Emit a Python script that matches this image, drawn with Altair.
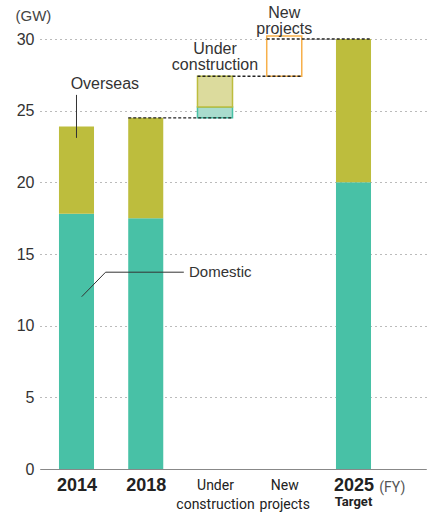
import altair as alt
import pandas as pd

# ---- data ----
categories = ["2014", "2018", "Under construction", "New projects", "2025"]
axis_labels = [["2014"], ["2018"], ["Under", "construction"], ["New", "projects"], ["2025"]]
positions = [0, 1, 2, 3, 4]
domestic = [17.8, 17.5, 20.0]          # 2014, 2018, 2025
overseas = [6.1, 7.0, 10.0]            # 2014, 2018, 2025
solid_pos = [0, 1, 4]
uc_domestic = 0.75                     # under construction (domestic part)
uc_overseas = 2.15                     # under construction (overseas part)
new_projects = 2.6

TEAL = "#48c1a6"
OLIVE = "#bdbd3d"
LTEAL = "#a9dccd"
LOLIVE = "#dcdb9d"
ORANGE = "#f7b04a"
FONT = "Liberation Sans"
NARROW = "Roboto"
HALF = 0.253

# ---- tables ----
rows = []
for p, d, o in zip(solid_pos, domestic, overseas):
    rows.append({"x": p - HALF, "x2": p + HALF, "y": 0, "y2": d, "kind": "Domestic"})
    rows.append({"x": p - HALF, "x2": p + HALF, "y": d, "y2": d + o, "kind": "Overseas"})
solid = pd.DataFrame(rows)

base2018 = domestic[1] + overseas[1]
uc_top = base2018 + uc_domestic + uc_overseas
uc = pd.DataFrame([
    {"x": 2 - HALF, "x2": 2 + HALF, "y": base2018, "y2": base2018 + uc_domestic, "kind": "Domestic"},
    {"x": 2 - HALF, "x2": 2 + HALF, "y": base2018 + uc_domestic, "y2": uc_top, "kind": "Overseas"},
])
npj = pd.DataFrame([{"x": 3 - HALF, "x2": 3 + HALF, "y": uc_top, "y2": uc_top + new_projects}])

total2025 = domestic[2] + overseas[2]
connectors = pd.DataFrame([
    {"x": 1 - HALF, "x2": 2 + HALF, "y": base2018},
    {"x": 2 - HALF, "x2": 3 + HALF, "y": uc_top},
    {"x": 3 - HALF, "x2": 4 + HALF, "y": total2025},
])

xscale = alt.Scale(domain=[-0.527, 5.047], nice=False, zero=False)
yscale = alt.Scale(domain=[0, 30], nice=False)

labels_js = "[" + ",".join("[" + ",".join("'%s'" % s for s in l) + "]" for l in axis_labels) + "]"
small_test = "datum.value == 2 || datum.value == 3"

xaxis = alt.Axis(
    values=positions, labelExpr=labels_js + "[datum.value]", grid=False, ticks=False,
    domainColor="#888", domainWidth=1, title=None,
    labelPadding={"condition": {"test": small_test, "value": 9}, "value": 7},
    labelFontSize={"condition": {"test": small_test, "value": 14}, "value": 18},
    labelFontWeight={"condition": {"test": small_test, "value": "normal"}, "value": "bold"},
    labelFont={"condition": {"test": small_test, "value": NARROW}, "value": FONT},
    labelColor="#222", labelLineHeight=19, labelBaseline="top",
)
yaxis = alt.Axis(
    values=[0, 5, 10, 15, 20, 25, 30], grid=True, gridDash=[1, 4], gridColor="#777",
    gridWidth=1, domain=False, ticks=False, labelFontSize=16, labelColor="#333",
    labelFont=FONT, labelPadding=6, title="(GW)", titleAngle=0, titleX=-25, titleY=-24,
    titleAlign="left", titleBaseline="middle", titleFontSize=15, titleFontWeight="normal",
    titleColor="#444", titleFont=FONT,
)

bars = alt.Chart(solid).mark_rect().encode(
    x=alt.X("x:Q", scale=xscale, axis=xaxis),
    x2="x2:Q",
    y=alt.Y("y:Q", scale=yscale, axis=yaxis),
    y2="y2:Q",
    color=alt.Color("kind:N", scale=alt.Scale(domain=["Domestic", "Overseas"], range=[TEAL, OLIVE]), legend=None),
)

ucbars = alt.Chart(uc).mark_rect(strokeWidth=1.5).encode(
    x="x:Q", x2="x2:Q", y="y:Q", y2="y2:Q",
    fill=alt.Fill("kind:N", scale=alt.Scale(domain=["Domestic", "Overseas"], range=[LTEAL, LOLIVE]), legend=None),
    stroke=alt.Stroke("kind:N", scale=alt.Scale(domain=["Domestic", "Overseas"], range=[TEAL, OLIVE]), legend=None),
)

npbar = alt.Chart(npj).mark_rect(fill="white", stroke=ORANGE, strokeWidth=1.5, y2Offset=-3).encode(
    x="x:Q", x2="x2:Q", y="y:Q", y2="y2:Q",
)

dashes = alt.Chart(connectors).mark_rule(color="#222", strokeDash=[3, 2], strokeWidth=1.3).encode(
    x="x:Q", x2="x2:Q", y="y:Q",
)

# annotations (y = position of the first line's bottom)
ann = pd.DataFrame([
    {"x": 2, "y": 28.72, "t": "Under\nconstruction"},
    {"x": 3, "y": 31.25, "t": "New\nprojects"},
    {"x": 0.41, "y": 26.3, "t": "Overseas"},
])
ann_text = alt.Chart(ann).mark_text(
    fontSize=16, font=FONT, color="#333", baseline="bottom", align="center", lineBreak="\n", lineHeight=16
).encode(x="x:Q", y="y:Q", text="t:N")

dom_text = alt.Chart(pd.DataFrame([{"x": 1.625, "y": 13.75, "t": "Domestic"}])).mark_text(
    fontSize=15, font=FONT, color="#333", baseline="middle", align="left"
).encode(x="x:Q", y="y:Q", text="t:N")

ov_lead = alt.Chart(pd.DataFrame([{"x": 0.0, "y": 26.1, "y2": 23.1}])).mark_rule(color="#333", strokeWidth=1).encode(
    x="x:Q", y="y:Q", y2="y2:Q"
)
dom_lead = alt.Chart(pd.DataFrame([
    {"x": 0.075, "y": 12.02, "o": 0},
    {"x": 0.42, "y": 13.73, "o": 1},
    {"x": 1.55, "y": 13.73, "o": 2},
])).mark_line(color="#333", strokeWidth=1).encode(x="x:Q", y="y:Q", order="o:Q")

target = alt.Chart(pd.DataFrame([{"x": 4, "t": "Target"}])).mark_text(
    fontSize=13, font=NARROW, fontWeight="bold", color="#222", baseline="middle"
).encode(x="x:Q", y=alt.value(463), text="t:N")

fy = alt.Chart(pd.DataFrame([{"x": 4.56, "t": "(FY)"}])).mark_text(
    fontSize=14, font=NARROW, color="#555", baseline="middle"
).encode(x="x:Q", y=alt.value(449), text="t:N")

chart = alt.layer(
    bars, ucbars, npbar, dashes, ann_text, dom_text, ov_lead, dom_lead, target, fy
).properties(
    width=386, height=430,
    autosize=alt.AutoSizeParams(type="none"),
    padding={"left": 40, "top": 39, "right": 7, "bottom": 45},
).configure_view(stroke=None)

chart.save("out.html", embed_options={"renderer": "svg", "actions": False})
